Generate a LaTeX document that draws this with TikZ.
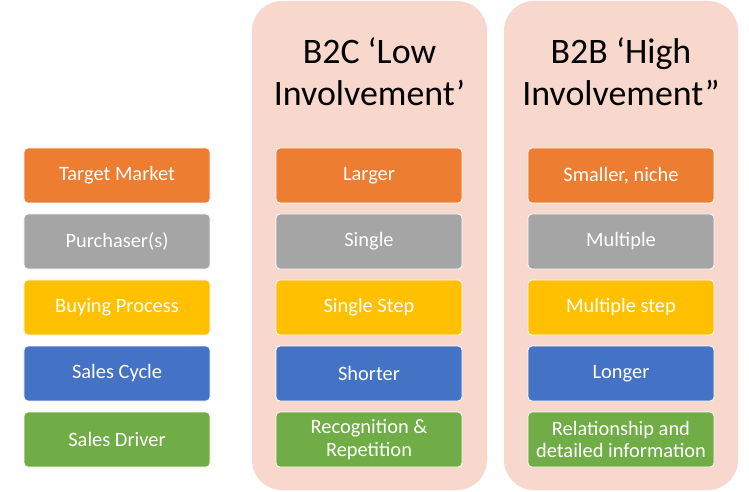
\documentclass[tikz,border=0pt]{standalone}
\usepackage{fontspec}
\setmainfont{Carlito}
\definecolor{cOrange}{HTML}{ED7D31}
\definecolor{cGrey}{HTML}{A5A5A5}
\definecolor{cYellow}{HTML}{FFC000}
\definecolor{cBlue}{HTML}{4472C4}
\definecolor{cGreen}{HTML}{70AD47}
\definecolor{cPanel}{HTML}{F8D7CD}
\tikzset{
  cell/.style={draw=white, line width=0.8bp, rounded corners=4bp, minimum width=186bp, minimum height=55bp,
    text=white, align=center, inner sep=0pt, font=\fontsize{20.5}{23}\selectfont},
  panel/.style={fill=cPanel, draw=none, rounded corners=30bp},
  title/.style={align=center, anchor=base, font=\fontsize{36}{43}\selectfont, inner sep=0pt}
}
\begin{document}
\begin{tikzpicture}[x=1bp,y=-1bp]
\useasboundingbox (0,0) rectangle (749,492);
\fill[white] (0,0) rectangle (749,492);
\draw[panel] (252,1) rectangle (487,490);
\draw[panel] (504,1) rectangle (738,490);
\node[title] (t1) at (369.5,106) {B2C ‘Low\\Involvement’};
\node[title] (t2) at (621,106) {B2B ‘High\\Involvement”};
% left column
\node[cell, fill=cOrange] (l1) at (117,175.5) {Target Market};
\node[cell, fill=cGrey]   (l2) at (117,241.5) {Purchaser(s)};
\node[cell, fill=cYellow] (l3) at (117,307.5) {Buying Process};
\node[cell, fill=cBlue]   (l4) at (117,373.5) {Sales Cycle};
\node[cell, fill=cGreen]  (l5) at (117,439.5) {Sales Driver};
% middle column
\node[cell, fill=cOrange] (m1) at (369,175.5) {Larger};
\node[cell, fill=cGrey]   (m2) at (369,241.5) {Single};
\node[cell, fill=cYellow] (m3) at (369,307.5) {Single Step};
\node[cell, fill=cBlue]   (m4) at (369,373.5) {Shorter};
\node[cell, fill=cGreen]  (m5) at (369,439.5) {Recognition \&\\Repetition};
% right column
\node[cell, fill=cOrange] (r1) at (621,175.5) {Smaller, niche};
\node[cell, fill=cGrey]   (r2) at (621,241.5) {Multiple};
\node[cell, fill=cYellow] (r3) at (621,307.5) {Multiple step};
\node[cell, fill=cBlue]   (r4) at (621,373.5) {Longer};
\node[cell, fill=cGreen]  (r5) at (621,439.5) {Relationship and\\detailed information};
\end{tikzpicture}
\end{document}
